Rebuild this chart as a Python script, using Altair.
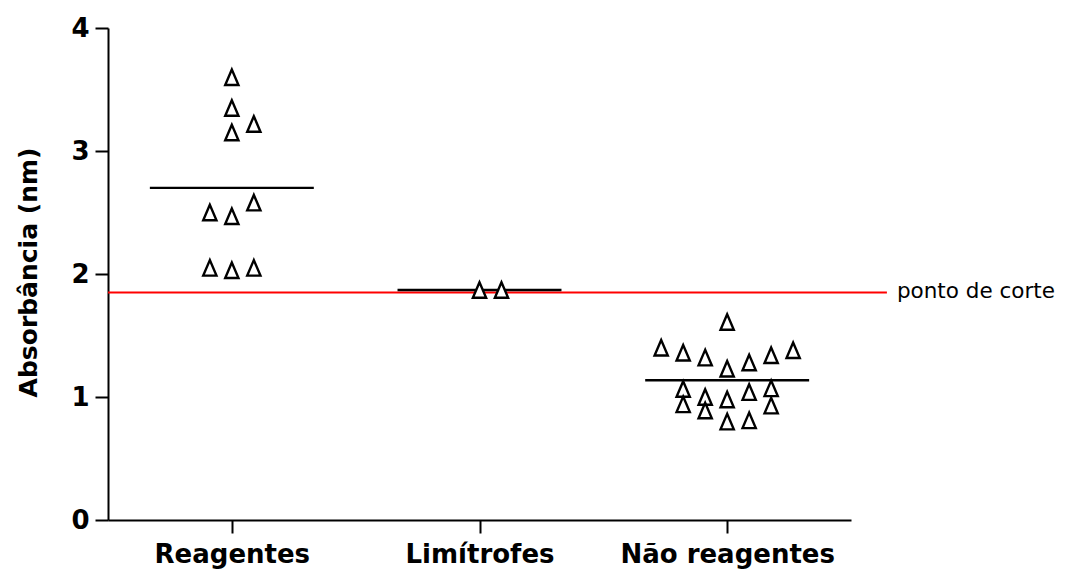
import altair as alt
import pandas as pd

groups = ["Reagentes", "Limítrofes", "Não reagentes"]

reag_vals = [3.60, 3.35, 3.15, 3.22, 2.50, 2.47, 2.58, 2.05, 2.03, 2.05]
reag_slot = [0, 0, 0, 1, -1, 0, 1, -1, 0, 1]

lim_vals = [1.87, 1.87]
lim_slot = [0, 1]

nr_vals = [1.61, 1.40, 1.36, 1.32, 1.23, 1.28, 1.34, 1.38,
           1.065, 0.94, 1.00, 0.89, 0.98, 1.04, 1.07, 0.93, 0.80, 0.81]
nr_slot = [0, -3, -2, -1, 0, 1, 2, 3,
           -2, -2, -1, -1, 0, 1, 2, 2, 0, 1]

cutoff = 1.85
cutoff_label = "ponto de corte"

FONT = "DejaVu Sans"
SLOT_STEP = 0.0888
HALF_MEAN = 0.331

rows = []
for gi, (vals, slots) in enumerate([(reag_vals, reag_slot), (lim_vals, lim_slot), (nr_vals, nr_slot)], start=1):
    for v, s in zip(vals, slots):
        rows.append({"gi": gi, "group": groups[gi - 1], "slot": s, "value": v})
df = pd.DataFrame(rows)
cut_df = pd.DataFrame({"value": [cutoff], "label": [cutoff_label]})

label_expr = " : ".join(
    [f"datum.value == {i + 1} ? '{g}'" for i, g in enumerate(groups[:-1])]
) + f" : '{groups[-1]}'"

xscale = alt.Scale(domain=[0.5, 3.5], nice=False, zero=False)
yscale = alt.Scale(domain=[0, 4], nice=False)

xaxis = alt.Axis(values=[1, 2, 3], labelExpr=label_expr, grid=False,
                 domainColor="black", domainWidth=2, tickColor="black", tickWidth=2,
                 tickSize=13, labelFont=FONT, labelFontSize=26, labelFontWeight="bold",
                 labelColor="black", labelPadding=8, labelFlush=False, labelOverlap=False,
                 labelLimit=0, title=None)
yaxis = alt.Axis(values=[0, 1, 2, 3, 4], format="d", grid=False,
                 domainColor="black", domainWidth=2, tickColor="black", tickWidth=2,
                 tickSize=13, labelFont=FONT, labelFontSize=26, labelFontWeight="bold",
                 labelColor="black", labelPadding=6, labelFlush=False,
                 title="Absorbância (nm)", titleFont=FONT, titleFontSize=25,
                 titleFontWeight="bold", titleColor="black", titleAngle=-90,
                 titleX=-80, titleY=244, titleAlign="center", titleBaseline="middle")

base = alt.Chart(df)

points = base.transform_calculate(
    xpos=f"datum.gi + datum.slot * {SLOT_STEP}"
).mark_point(
    shape="M0,-1L-0.855,1L0.855,1Z", size=240, filled=True, fill="white",
    stroke="black", strokeWidth=2.4, opacity=1
).encode(
    x=alt.X("xpos:Q", scale=xscale, axis=xaxis),
    y=alt.Y("value:Q", scale=yscale, axis=yaxis),
)

means = base.transform_aggregate(
    mean_val="mean(value)", groupby=["gi"]
).transform_calculate(
    x1=f"datum.gi - {HALF_MEAN}", x2=f"datum.gi + {HALF_MEAN}"
).mark_rule(color="black", strokeWidth=2.4).encode(
    x=alt.X("x1:Q", scale=xscale),
    x2="x2:Q",
    y=alt.Y("mean_val:Q", scale=yscale),
)

cut_rule = alt.Chart(cut_df).mark_rule(color="#ff0000", strokeWidth=2).encode(
    x=alt.datum(0.5, scale=xscale),
    x2=alt.datum(3.645),
    y=alt.Y("value:Q", scale=yscale),
)

cut_text = alt.Chart(cut_df).mark_text(
    align="left", baseline="middle", dx=10, font=FONT, fontSize=21.5, color="black"
).encode(
    x=alt.datum(3.645, scale=xscale),
    y=alt.Y("value:Q", scale=yscale),
    text="label:N",
)

chart = alt.layer(cut_rule, means, points, cut_text).properties(
    width=743, height=492,
    autosize=alt.AutoSizeParams(type="none"),
    padding={"left": 100, "top": 20, "right": 206, "bottom": 49},
).configure_view(strokeWidth=0)

chart.save("out.html", embed_options={"renderer": "svg", "actions": False})
